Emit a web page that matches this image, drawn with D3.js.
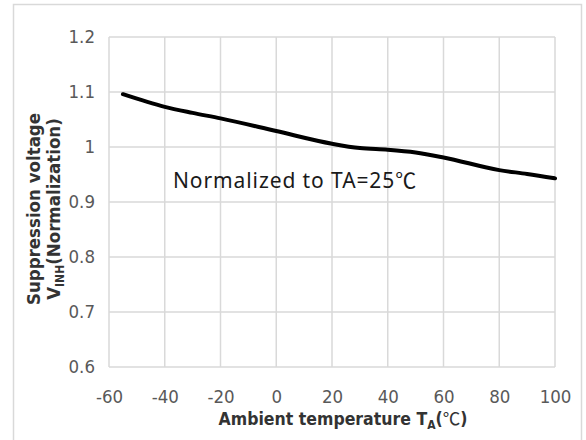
<!DOCTYPE html>
<html>
<head>
<meta charset="utf-8">
<script src="https://cdn.jsdelivr.net/npm/d3@7"></script>
<style>
  body { margin: 0; background: #fff; }
  .tick text { font-family: "Liberation Sans Narrow", "DejaVu Sans Condensed", "Noto Sans", sans-serif; fill: #595959; }
</style>
</head>
<body>
<svg id="chart" width="586" height="440"></svg>
<script>
// values
var temps = [-55, -40, -30, -20, 0, 20, 30, 40, 50, 60, 80, 90, 100];
var vinh  = [1.096, 1.073, 1.062, 1.052, 1.029, 1.006, 0.998, 0.995, 0.990, 0.981, 0.958, 0.951, 0.943];
var xTicks = [-60, -40, -20, 0, 20, 40, 60, 80, 100];
var yTicks = [0.6, 0.7, 0.8, 0.9, 1, 1.1, 1.2];

var svg = d3.select("#chart");
var mLeft = 109, mRight = 555, mTop = 37, mBottom = 367;

// outer chart border
svg.append("rect")
    .attr("x", 13.5).attr("y", 4.5)
    .attr("width", 568).attr("height", 450)
    .attr("fill", "none")
    .attr("stroke", "#d9d9d9")
    .attr("stroke-width", 1.5);

var x = d3.scaleLinear().domain([-60, 100]).range([mLeft, mRight]);
var y = d3.scaleLinear().domain([0.6, 1.2]).range([mBottom, mTop]);

// gridlines
svg.append("g")
  .selectAll("line")
  .data(xTicks)
  .enter().append("line")
    .attr("x1", function(d) { return x(d); })
    .attr("x2", function(d) { return x(d); })
    .attr("y1", mTop).attr("y2", mBottom)
    .attr("stroke", "#d9d9d9")
    .attr("stroke-width", 1.5);

svg.append("g")
  .selectAll("line")
  .data(yTicks)
  .enter().append("line")
    .attr("x1", mLeft).attr("x2", mRight)
    .attr("y1", function(d) { return y(d); })
    .attr("y2", function(d) { return y(d); })
    .attr("stroke", "#d9d9d9")
    .attr("stroke-width", 1.5);

// axes (labels only)
var xAxis = svg.append("g")
    .attr("transform", "translate(0," + mBottom + ")")
    .call(d3.axisBottom(x).tickValues(xTicks).tickSize(0).tickPadding(23)
        .tickFormat(function(d) { return String(d); }));
xAxis.select(".domain").remove();
xAxis.selectAll("text").attr("font-size", 18.5);

var yAxis = svg.append("g")
    .attr("transform", "translate(" + mLeft + ",0)")
    .call(d3.axisLeft(y).tickValues(yTicks).tickSize(0).tickPadding(14)
        .tickFormat(function(d) { return String(d); }));
yAxis.select(".domain").remove();
yAxis.selectAll("text").attr("font-size", 18.5);

// the curve
var line = d3.line()
    .x(function(d, i) { return x(temps[i]); })
    .y(function(d) { return y(d); })
    .curve(d3.curveMonotoneX);

svg.append("path")
    .datum(vinh)
    .attr("d", line)
    .attr("fill", "none")
    .attr("stroke", "#000")
    .attr("stroke-width", 4)
    .attr("stroke-linecap", "round");

// annotation
var note = svg.append("text")
    .attr("x", 173).attr("y", 188)
    .attr("font-family", "'Noto Sans', sans-serif")
    .attr("font-size", 21)
    .attr("letter-spacing", 0.9)
    .attr("fill", "#1a1a1a");
note.append("tspan").text("Normalized to TA=25");
note.append("tspan").attr("font-family", "'Noto Sans CJK SC', sans-serif").text("℃");

var titleFont = "'Liberation Sans Narrow', 'DejaVu Sans Condensed', 'Noto Sans', sans-serif";

// x title
var xt = svg.append("text")
    .attr("x", 343).attr("y", 425)
    .attr("text-anchor", "middle")
    .attr("font-family", titleFont)
    .attr("font-weight", "bold")
    .attr("font-size", 17.5)
    .attr("fill", "#333");
xt.append("tspan").text("Ambient temperature T");
xt.append("tspan").attr("font-size", 12).attr("dy", 4).text("A");
xt.append("tspan").attr("dy", -4).text("(");
xt.append("tspan").attr("font-weight", "normal").attr("font-family", "'Noto Sans CJK SC', sans-serif").text("℃");
xt.append("tspan").text(")");

// y title, two lines
var yt = svg.append("g")
    .attr("transform", "translate(0,209) rotate(-90)")
    .attr("font-family", titleFont)
    .attr("font-weight", "bold")
    .attr("font-size", 18.5)
    .attr("fill", "#333")
    .attr("text-anchor", "middle");

yt.append("text").attr("x", 0).attr("y", 40).text("Suppression voltage");
var yt2 = yt.append("text").attr("x", 0).attr("y", 60);
yt2.append("tspan").text("V");
yt2.append("tspan").attr("font-size", 12).attr("dy", 4).text("INH");
yt2.append("tspan").attr("dy", -4).text("(Normalization)");
</script>
</body>
</html>
